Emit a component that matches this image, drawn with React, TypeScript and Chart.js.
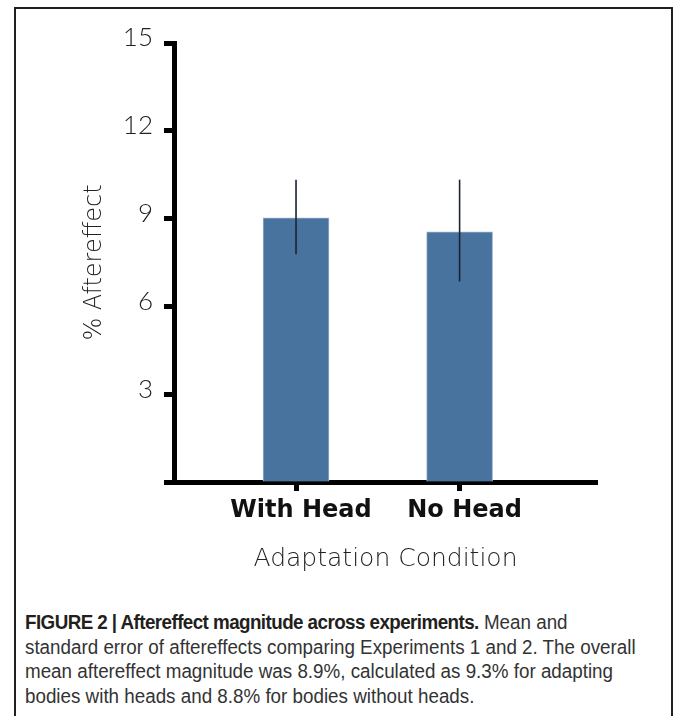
import React, { useEffect, useRef } from "react";
import { Chart, registerables } from "chart.js";

Chart.register(...registerables);

const categories = ["With Head", "No Head"];
const means = [9.03, 8.55];
const errLow = [7.78, 6.85];
const errHigh = [10.33, 10.33];
const yTickValues = [0, 3, 6, 9, 12, 15];
const yTitle = "% Aftereffect";
const xTitle = "Adaptation Condition";
const captionBold = "FIGURE 2 | Aftereffect magnitude across experiments.";
const captionLines = [
  " Mean and",
  "standard error of aftereffects comparing Experiments 1 and 2. The overall",
  "mean aftereffect magnitude was 8.9%, calculated as 9.3% for adapting",
  "bodies with heads and 8.8% for bodies without heads.",
];

const lightFont = "Lato, 'Open Sans', sans-serif";
const wideFont = "'DejaVu Sans', sans-serif";

const errorBarPlugin = {
  id: "errorBars",
  afterDatasetsDraw(chart: any) {
    const ctx = chart.ctx;
    const meta = chart.getDatasetMeta(0);
    const y = chart.scales.y;
    ctx.save();
    ctx.strokeStyle = "#1b2430";
    ctx.lineWidth = 1.6;
    meta.data.forEach((bar: any, i: number) => {
      ctx.beginPath();
      ctx.moveTo(bar.x, y.getPixelForValue(errHigh[i]));
      ctx.lineTo(bar.x, y.getPixelForValue(errLow[i]));
      ctx.stroke();
    });
    ctx.restore();
  },
};

export default function App() {
  const ref = useRef<HTMLCanvasElement>(null);
  useEffect(() => {
    if (!ref.current) return;
    const chart = new Chart(ref.current, {
      type: "bar",
      data: {
        datasets: [
          {
            data: categories.map((c, i) => ({ x: i + 1, y: means[i] })),
            backgroundColor: "#48739f",
            borderColor: "#9db3ca",
            borderWidth: 1,
            barThickness: 66,
          },
        ],
      },
      options: {
        animation: false,
        responsive: true,
        maintainAspectRatio: false,
        layout: { padding: { top: 43, right: 76, left: 0, bottom: 0 } },
        plugins: { legend: { display: false }, tooltip: { enabled: false } },
        scales: {
          x: {
            type: "linear",
            offset: false,
            min: 0.254,
            max: 2.84,
            z: 1,
            afterBuildTicks: (s: any) => {
              s.ticks = categories.map((c, i) => ({ value: i + 1 }));
            },
            afterFit: (s: any) => {
              s.height = 108;
            },
            border: { display: true, color: "#000", width: 5 },
            grid: {
              offset: false,
              drawOnChartArea: false,
              drawTicks: true,
              tickLength: 9,
              tickWidth: 5,
              color: "#000",
            },
            ticks: {
              autoSkip: false,
              maxRotation: 0,
              padding: 5,
              labelOffset: 5,
              color: "#111",
              font: { family: wideFont, size: 24, weight: "bold" },
              callback: (v: any) => categories[Math.round(v) - 1] ?? "",
            },
            title: {
              display: true,
              text: xTitle,
              color: "#222",
              font: { family: wideFont, size: 25, weight: "200" },
              padding: { top: 0, bottom: 16 },
            },
          },
          y: {
            min: 0,
            max: 15,
            z: 1,
            afterBuildTicks: (s: any) => {
              s.ticks = yTickValues.map((v) => ({ value: v }));
            },
            afterFit: (s: any) => {
              s.width = 174;
            },
            border: { display: true, color: "#000", width: 5 },
            grid: {
              drawOnChartArea: false,
              drawTicks: true,
              tickLength: 10,
              tickWidth: 5,
              color: "#000",
            },
            ticks: {
              padding: 11,
              labelOffset: -5,
              color: "#222",
              font: { family: lightFont, size: 26, weight: "300" },
              callback: (v: any) => (v === 0 ? "" : String(v)),
            },
            title: {
              display: true,
              text: yTitle,
              color: "#222",
              font: { family: wideFont, size: 24, weight: "200" },
              padding: { top: 80, bottom: 0 },
            },
          },
        },
      },
      plugins: [errorBarPlugin],
    } as any);
    return () => chart.destroy();
  }, []);

  return (
    <div
      style={{
        position: "absolute",
        left: 0,
        top: 0,
        width: 673,
        height: 716,
        background: "#fff",
        overflow: "hidden",
      }}
    >
      <div
        style={{
          position: "absolute",
          left: 14,
          top: 7,
          width: 655,
          height: 720,
          borderTop: "2px solid #231f20",
          borderLeft: "2px solid #231f20",
          borderRight: "2px solid #231f20",
        }}
      />
      <div style={{ position: "absolute", left: 0, top: 0, width: 673, height: 590 }}>
        <canvas ref={ref} />
      </div>
      <div
        style={{
          position: "absolute",
          left: 25,
          top: 610,
          fontFamily: "'Liberation Sans', Arial, sans-serif",
          fontSize: 20,
          lineHeight: "24.7px",
          color: "#333",
          whiteSpace: "nowrap",
          transform: "scaleX(0.94)",
          transformOrigin: "0 0",
        }}
      >
        <div>
          <span style={{ fontWeight: "bold", color: "#231f20", letterSpacing: "-0.6px" }}>
            {captionBold}
          </span>
          {captionLines[0]}
        </div>
        {captionLines.slice(1).map((l, i) => (
          <div key={i}>{l}</div>
        ))}
      </div>
    </div>
  );
}
